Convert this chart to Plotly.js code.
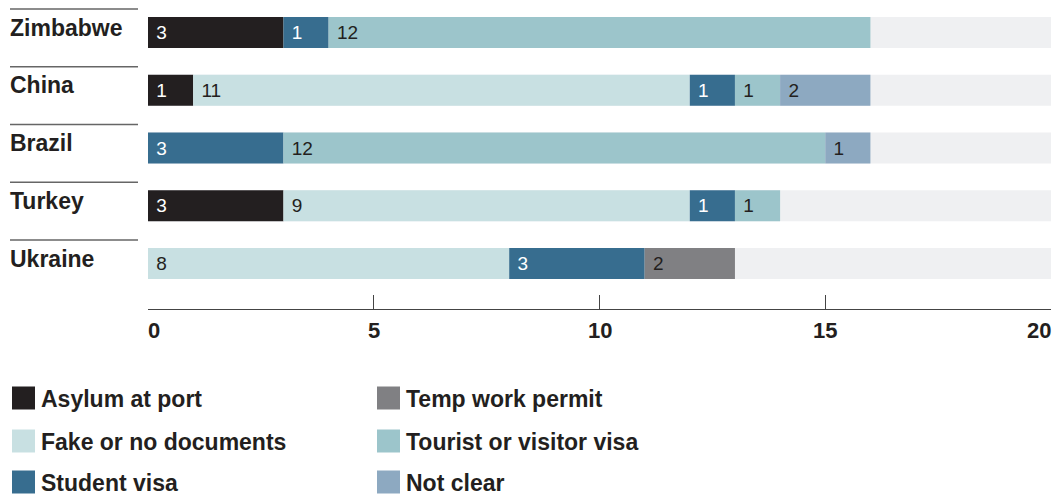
<!DOCTYPE html>
<html>
<head>
<meta charset="utf-8">
<script src="https://cdn.plot.ly/plotly-3.0.1.min.js"></script>
<style>html,body{margin:0;padding:0;background:#fff;}#chart{width:1063px;height:501px;}</style>
</head>
<body>
<div id="chart"></div>
<script>
// ---- data ----
const countries = ["Zimbabwe", "China", "Brazil", "Turkey", "Ukraine"];
const seriesNames = ["Asylum at port", "Fake or no documents", "Student visa", "Temp work permit", "Tourist or visitor visa", "Not clear"];
const asylum   = [3, 1, 0, 3, 0];
const fake     = [0, 11, 0, 9, 8];
const student  = [1, 1, 3, 1, 3];
const temp     = [0, 0, 0, 0, 2];
const tourist  = [12, 1, 12, 1, 0];
const notClear = [0, 2, 1, 0, 0];
const maxValue = [20, 20, 20, 20, 20];
const tickValues = [0, 5, 10, 15, 20];
const tickLabels = ["0", "5", "10", "15", "20"];

// ---- styles ----
const colors = ["#231f20", "#c8e0e2", "#376d8f", "#808083", "#9cc5cb", "#8da9c1"];
const textColors = ["#ffffff", "#231f20", "#ffffff", "#231f20", "#231f20", "#231f20"];
const seriesValues = [asylum, fake, student, temp, tourist, notClear];
const W = 1063, H = 501;
const M = {l: 148, r: 12, t: 0, b: 192};
const PW = W - M.l - M.r, PH = H - M.t - M.b;
const px2x = p => (p - M.l) / PW;
const px2y = p => (H - M.b - p) / PH;
const labelFont = "Liberation Sans, Arial, sans-serif";
const ink = "#231f20";

const traces = [];
traces.push({
  type: "bar", orientation: "h", y: countries, x: maxValue, base: countries.map(() => 0),
  marker: {color: "#eff0f2", line: {width: 0}}, hoverinfo: "skip", showlegend: false
});
const cum = countries.map(() => 0);
seriesValues.forEach((vals, s) => {
  const base = cum.slice();
  vals.forEach((v, i) => { cum[i] += v; });
  traces.push({
    type: "bar", orientation: "h", name: seriesNames[s], y: countries, x: vals, base: base,
    marker: {color: colors[s], line: {width: 0}},
    text: vals.map(v => v > 0 ? "\u00a0" + v : ""),
    textposition: "inside", insidetextanchor: "start", textangle: 0, constraintext: "none",
    textfont: {family: labelFont, size: 19, color: textColors[s]},
    showlegend: false
  });
});

const annotations = [];
const shapes = [];
// country labels and rules
countries.forEach((c, i) => {
  annotations.push({
    xref: "paper", yref: "y", x: px2x(8), y: c, xanchor: "left", yanchor: "middle", yshift: 5,
    text: c, showarrow: false, font: {family: labelFont, size: 23, color: ink, weight: "bold"}
  });
  shapes.push({
    type: "line", xref: "paper", yref: "y", x0: px2x(10), x1: px2x(138), y0: i - 0.405, y1: i - 0.405,
    line: {color: "#666", width: 1.5}
  });
});
// x tick labels
tickValues.forEach((v, k) => {
  const first = k === 0, last = k === tickValues.length - 1;
  annotations.push({
    xref: "x", yref: "paper", x: v, y: 0, yshift: -21, yanchor: "middle",
    xshift: first ? -2 : (last ? 2 : 0),
    xanchor: first ? "left" : (last ? "right" : "center"),
    text: tickLabels[k], showarrow: false, font: {family: labelFont, size: 22, color: ink, weight: "bold"}
  });
});
// legend (3 rows, 2 columns)
const colX = [12, 377], rowY = [398, 441, 482], sq = 23;
seriesNames.forEach((n, s) => {
  const cx = colX[Math.floor(s / 3)], cy = rowY[s % 3];
  shapes.push({
    type: "rect", xref: "paper", yref: "paper",
    x0: px2x(cx), x1: px2x(cx + sq), y0: px2y(cy + sq / 2), y1: px2y(cy - sq / 2),
    fillcolor: colors[s], line: {width: 0}
  });
  annotations.push({
    xref: "paper", yref: "paper", x: px2x(cx + 27), y: px2y(cy + 1), xanchor: "left", yanchor: "middle",
    text: n, showarrow: false, font: {family: labelFont, size: 23, color: ink, weight: "bold"}
  });
});

const layout = {
  width: W, height: H, margin: M,
  paper_bgcolor: "#fff", plot_bgcolor: "#fff",
  barmode: "overlay", bargap: 0.463,
  showlegend: false,
  xaxis: {
    range: [0, 20], autorange: false, showgrid: false, zeroline: false,
    showline: true, linecolor: "#444", linewidth: 1,
    tickmode: "array", tickvals: tickValues, showticklabels: false,
    ticks: "inside", ticklen: 14, tickcolor: "#444", tickwidth: 1
  },
  yaxis: {
    type: "category", categoryorder: "array", categoryarray: countries,
    range: [4.788, -0.563], autorange: false, showgrid: false, zeroline: false,
    showline: false, showticklabels: false, ticks: ""
  },
  annotations: annotations,
  shapes: shapes
};

Plotly.newPlot("chart", traces, layout, {displayModeBar: false, staticPlot: true});
</script>
</body>
</html>
